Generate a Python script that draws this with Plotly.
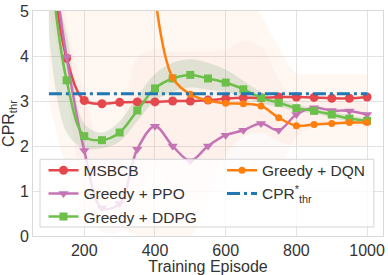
import plotly.graph_objects as go

episodes = [100, 150, 200, 250, 300, 350, 400, 450, 500, 550, 600, 650, 700, 750, 800, 850, 900, 950, 1000]

msbcb = [6.5, 3.95, 3.01, 2.94, 2.97, 2.98, 2.98, 3.0, 3.0, 3.02, 3.05, 3.07, 3.07, 3.09, 3.09, 3.08, 3.06, 3.06, 3.09]
ppo = [6.8, 3.98, 1.9, 0.62, 0.72, 1.93, 2.44, 2.0, 1.67, 2.0, 2.24, 2.35, 2.5, 2.35, 2.7, 2.85, 2.79, 2.78, 2.7]
ddpg = [6.3, 3.46, 2.22, 2.13, 2.3, 2.79, 3.28, 3.5, 3.58, 3.5, 3.41, 3.26, 3.07, 2.96, 2.84, 2.78, 2.7, 2.61, 2.56]
dqn_episodes = [400, 450, 500, 550, 600, 650, 700, 750, 800, 850, 900, 950, 1000]
dqn = [5.35, 3.52, 3.15, 3.01, 2.95, 2.94, 2.89, 2.63, 2.45, 2.48, 2.5, 2.52, 2.52]
cpr_x = [100, 1000]
cpr_star = [3.16, 3.16]

# shaded bands (upper / lower)
ppo_up = [9.0, 4.8, 3.2, 2.0, 2.4, 3.96, 4.15, 4.1, 4.1, 4.1, 4.15, 4.33, 4.2, 3.5, 3.0, 3.1, 3.0, 3.0, 2.95]
ppo_lo = [5.0, 3.2, 0.9, 0.1, 0.1, 0.9, 1.5, 1.0, 0.8, 1.0, 1.3, 1.4, 1.6, 1.5, 2.2, 2.4, 2.5, 2.5, 2.4]
ddpg_up = [6.0, 4.5, 2.5, 2.3, 2.55, 3.1, 3.6, 3.85, 3.93, 3.85, 3.7, 3.45, 3.2, 3.05, 2.92, 2.85, 2.78, 2.68, 2.62]
ddpg_lo = [4.5, 2.3, 1.95, 1.95, 2.1, 2.55, 3.0, 3.2, 3.3, 3.25, 3.2, 3.08, 2.95, 2.87, 2.77, 2.72, 2.63, 2.55, 2.5]
dqn_up = [6.0, 6.0, 6.0, 6.0, 6.0, 6.0, 6.0, 6.0, 6.0, 6.0, 6.0, 5.5, 4.9, 4.2, 3.62, 3.6, 3.6, 3.6, 3.58]
dqn_lo = [3.0, 1.5, 0.5, 0.3, 0.2, 0.0, 0.0, 0.0, 0.0, 0.8, 1.8, 2.2, 2.3, 2.1, 2.0, 2.0, 2.0, 2.0, 2.0]

RED = "#e5474d"
PINK = "#c673b6"
GREEN = "#6cc04a"
ORANGE = "#ff7f0e"
BLUE = "#1f77b4"

fig = go.Figure()

def band(x, up, lo, color):
    fig.add_trace(go.Scatter(x=x, y=up, mode="lines", line=dict(width=0, shape="spline"),
                             showlegend=False, hoverinfo="skip"))
    fig.add_trace(go.Scatter(x=x, y=lo, mode="lines", line=dict(width=0, shape="spline"),
                             fill="tonexty", fillcolor=color, showlegend=False, hoverinfo="skip"))

band(episodes, dqn_up, dqn_lo, "rgba(255,127,14,0.06)")
band(episodes, ppo_up, ppo_lo, "rgba(235,100,100,0.04)")
band(episodes, ddpg_up, ddpg_lo, "rgba(70,140,90,0.16)")

fig.add_trace(go.Scatter(x=episodes, y=msbcb, name="MSBCB", mode="lines+markers",
                         line=dict(color=RED, width=2.5, shape="spline"),
                         marker=dict(symbol="circle", size=9, color=RED), legend="legend"))
fig.add_trace(go.Scatter(x=episodes, y=ppo, name="Greedy + PPO", mode="lines+markers",
                         line=dict(color=PINK, width=2.5, shape="spline"),
                         marker=dict(symbol="triangle-down", size=9, color=PINK), legend="legend"))
fig.add_trace(go.Scatter(x=episodes, y=ddpg, name="Greedy + DDPG", mode="lines+markers",
                         line=dict(color=GREEN, width=2.5, shape="spline"),
                         marker=dict(symbol="square", size=8, color=GREEN), legend="legend"))
fig.add_trace(go.Scatter(x=dqn_episodes, y=dqn, name="Greedy + DQN", mode="lines+markers",
                         line=dict(color=ORANGE, width=2.5, shape="spline"),
                         marker=dict(symbol="circle", size=7, color=ORANGE), legend="legend2"))
fig.add_trace(go.Scatter(x=cpr_x, y=cpr_star, name="CPR<sup>*</sup><sub>thr</sub>", mode="lines",
                         line=dict(color=BLUE, width=3, dash="13px,4px,3px,4px"), legend="legend2"))

leg_common = dict(bgcolor="rgba(0,0,0,0)", borderwidth=0, traceorder="normal",
                  font=dict(size=15.5, color="#333333"), itemwidth=30,
                  yanchor="top", xanchor="left", y=0.366)

fig.update_layout(
    width=388, height=275,
    margin=dict(l=33, r=3, t=10, b=39),
    paper_bgcolor="white", plot_bgcolor="white",
    font=dict(family="Liberation Sans, Arial, sans-serif", size=16, color="#333333"),
    legend=dict(x=0.03, **leg_common),
    legend2=dict(x=0.54, **leg_common),
    showlegend=True,
    shapes=[dict(type="rect", xref="paper", yref="paper", x0=0.02, x1=0.974, y0=0.04, y1=0.341,
                 fillcolor="rgba(255,255,255,0.8)", line=dict(color="#d5d5d5", width=1),
                 layer="above")],
)
fig.update_xaxes(range=[55, 1045], tickvals=[200, 400, 600, 800, 1000],
                 showgrid=True, gridcolor="#e3e3e3", gridwidth=1,
                 showline=True, linecolor="#d9d9d9", mirror=True, zeroline=False,
                 ticks="", tickfont=dict(size=16),
                 title=dict(text="Training Episode", standoff=1, font=dict(size=16)))
fig.update_yaxes(range=[0, 5], tickvals=[0, 1, 2, 3, 4, 5],
                 showgrid=True, gridcolor="#e3e3e3", gridwidth=1,
                 showline=True, linecolor="#d9d9d9", mirror=True, zeroline=False,
                 ticks="", tickfont=dict(size=16),
                 title=dict(text="CPR<sub>thr</sub>", standoff=4, font=dict(size=16)))

fig.write_html("out.html", config={"displayModeBar": False},
               post_script="document.body.style.margin='0px';")
